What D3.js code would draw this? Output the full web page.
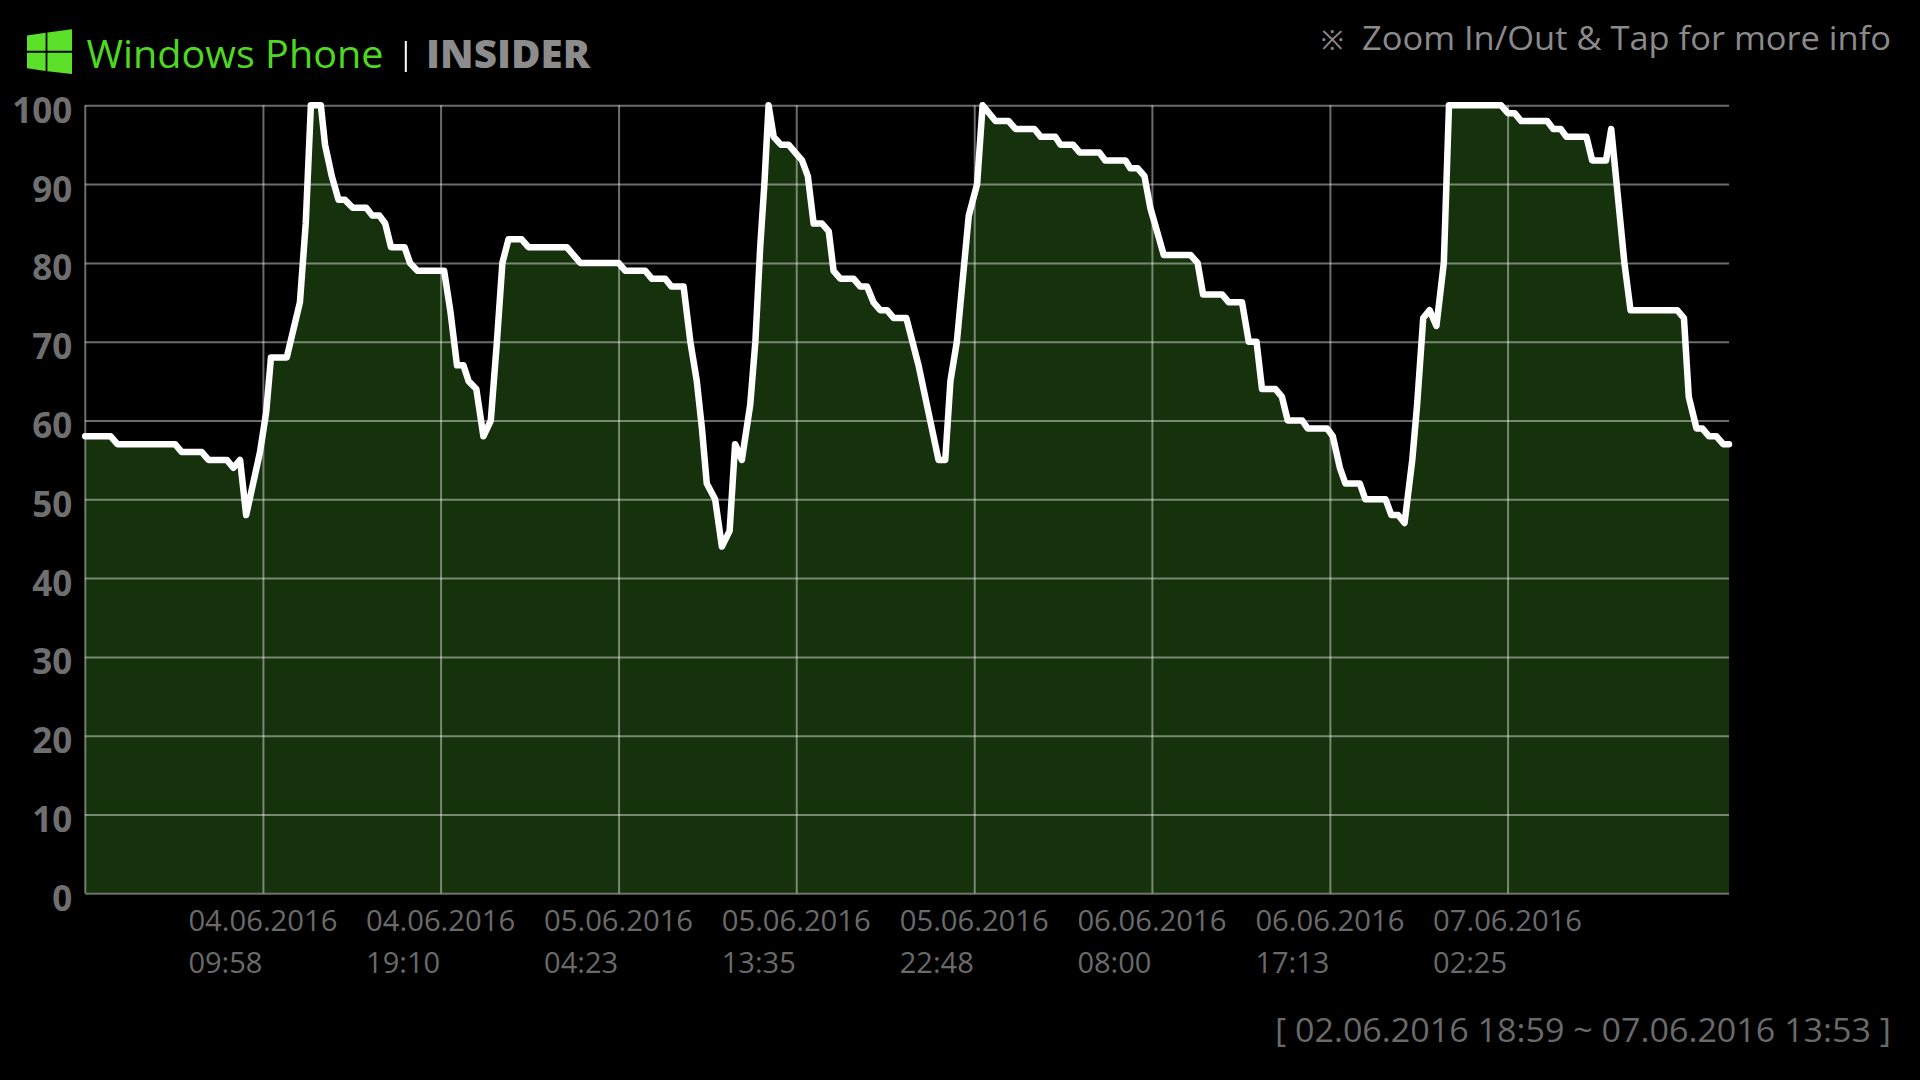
<!DOCTYPE html>
<html>
<head>
<meta charset="utf-8">
<script src="https://cdn.jsdelivr.net/npm/d3@7"></script>
<style>
  html, body { margin: 0; padding: 0; background: #000; overflow: hidden; }
  text { font-family: "Open Sans", "Noto Sans", sans-serif; }
</style>
</head>
<body>
<div id="content"></div>
<script>
// Minutes after the start of the axis.
var sampleMinutes = [
  0, 79, 100, 279, 300, 362, 383, 440, 460, 481,
  500, 543, 562, 577, 626, 667, 685, 701, 732, 745,
  766, 787, 807, 831, 873, 892, 914, 932, 950, 992,
  1009, 1032, 1115, 1134, 1155, 1175, 1191, 1215, 1237, 1260,
  1279, 1296, 1315, 1356, 1377, 1496, 1538, 1657, 1678, 1740,
  1760, 1802, 1821, 1859, 1880, 1900, 1916, 1931, 1957, 1978,
  2002, 2019, 2040, 2066, 2082, 2097, 2110, 2123, 2139, 2161,
  2185, 2206, 2227, 2245, 2263, 2289, 2310, 2325, 2346, 2387,
  2408, 2429, 2449, 2470, 2491, 2512, 2551, 2589, 2651, 2672,
  2688, 2708, 2745, 2771, 2788, 2828, 2869, 2890, 2949, 2969,
  3014, 3030, 3069, 3090, 3151, 3169, 3232, 3247, 3270, 3291,
  3309, 3330, 3351, 3434, 3456, 3473, 3532, 3553, 3594, 3615,
  3639, 3656, 3698, 3718, 3736, 3781, 3798, 3858, 3876, 3898,
  3915, 3960, 3977, 4040, 4058, 4079, 4099, 4123, 4138, 4157,
  4177, 4198, 4221, 4237, 4399, 4420, 4441, 4461, 4542, 4561,
  4584, 4602, 4664, 4682, 4725, 4741, 4758, 4782, 4801, 4946,
  4967, 4982, 5006, 5024, 5045, 5068, 5089, 5107
];

// Battery level at each of those minutes.
var batteryLevel = [
  58, 58, 57, 57, 56, 56, 55, 55, 54, 55,
  48, 56, 61, 68, 68, 75, 85, 100, 100, 95,
  91, 88, 88, 87, 87, 86, 86, 85, 82, 82,
  80, 79, 79, 74, 67, 67, 65, 64, 58, 60,
  70, 80, 83, 83, 82, 82, 80, 80, 79, 79,
  78, 78, 77, 77, 70, 65, 59, 52, 50, 44,
  46, 57, 55, 62, 70, 82, 90, 100, 96, 95,
  95, 94, 93, 91, 85, 85, 84, 79, 78, 78,
  77, 77, 75, 74, 74, 73, 73, 67, 55, 55,
  65, 70, 86, 90, 100, 98, 98, 97, 97, 96,
  96, 95, 95, 94, 94, 93, 93, 92, 92, 91,
  87, 84, 81, 81, 80, 76, 76, 75, 75, 70,
  70, 64, 64, 63, 60, 60, 59, 59, 58, 54,
  52, 52, 50, 50, 48, 48, 47, 55, 62, 73,
  74, 72, 80, 100, 100, 99, 99, 98, 98, 97,
  97, 96, 96, 93, 93, 97, 90, 80, 74, 74,
  73, 63, 59, 59, 58, 58, 57, 57
];

var axisStart = '04.06.2016 00:46';
var axisEnd = '07.06.2016 13:53';
var timeTicks = [
  '04.06.2016 09:58', '04.06.2016 19:10', '05.06.2016 04:23', '05.06.2016 13:35',
  '05.06.2016 22:48', '06.06.2016 08:00', '06.06.2016 17:13', '07.06.2016 02:25'
];
var levelTicks = [0, 10, 20, 30, 40, 50, 60, 70, 80, 90, 100];
var rangeLabel = '[ 02.06.2016 18:59 ~ 07.06.2016 13:53 ]';
var hintMark = '※';
var hintLabel = 'Zoom In/Out & Tap for more info';

var parseTime = d3.timeParse('%d.%m.%Y %H:%M');
var startDate = parseTime(axisStart);
var data = sampleMinutes.map(function(m, i) {
  return {t : d3.timeMinute.offset(startDate, m), v : batteryLevel[i]};
});

// Main SVG container.
var svg = d3.select('#content')
              .append('svg')
              .attr('width', 1920)
              .attr('height', 1080)
              .style('display', 'block');

var left = 85.25, right = 1729, top_ = 105.3, bottom = 893.3;

var scaleX = d3.scaleTime()
                 .domain([ startDate, parseTime(axisEnd) ])
                 .range([ left, right ]);
var scaleY = d3.scaleLinear().domain([ 0, 100 ]).range([ bottom, top_ ]);

// Area under the curve goes first, the grid is drawn on top of it.
svg.append('path')
    .datum(data)
    .attr('fill', '#15320c')
    .attr('d', d3.area()
                   .x(function(d) { return scaleX(d.t); })
                   .y0(scaleY(0))
                   .y1(function(d) { return scaleY(d.v); }));

// Y-axis with its grid lines.
var gridY = svg.append('g')
                .attr('transform', 'translate(' + left + ',0)')
                .call(d3.axisLeft(scaleY)
                          .tickValues(levelTicks)
                          .tickSize(-(right - left))
                          .tickPadding(13));
gridY.select('.domain').remove();
gridY.selectAll('line')
    .attr('stroke', '#fff')
    .attr('stroke-opacity', 0.42)
    .attr('stroke-width', 2);
gridY.selectAll('text')
    .attr('fill', '#6f6f6f')
    .attr('dy', 17)
    .style('font-size', '35px')
    .style('font-weight', 700)
    .style('font-family', '"Open Sans", sans-serif');

// X-axis: two line labels, left aligned under the date.
var gridX = svg.append('g')
                .attr('transform', 'translate(0,' + bottom + ')')
                .call(d3.axisBottom(scaleX)
                          .tickValues(timeTicks.map(parseTime))
                          .tickSize(-(bottom - top_))
                          .tickFormat(function() { return ''; }));
gridX.select('.domain').remove();
gridX.selectAll('line')
    .attr('stroke', '#fff')
    .attr('stroke-opacity', 0.42)
    .attr('stroke-width', 2);
gridX.selectAll('.tick text').remove();
gridX.selectAll('.tick').each(function(d, i) {
  var parts = timeTicks[i].split(' ');
  var tick = d3.select(this).append('text')
                 .attr('fill', '#6a6a6a')
                 .attr('text-anchor', 'start')
                 .style('font-size', '29px');
  tick.append('tspan')
      .attr('x', -75)
      .attr('y', 38)
      .attr('textLength', 149)
      .attr('lengthAdjust', 'spacingAndGlyphs')
      .text(parts[0]);
  tick.append('tspan')
      .attr('x', -75)
      .attr('y', 80)
      .attr('textLength', 74)
      .attr('lengthAdjust', 'spacingAndGlyphs')
      .text(parts[1]);
});

// Left and bottom frame lines.
svg.append('line')
    .attr('x1', left).attr('x2', left)
    .attr('y1', top_).attr('y2', bottom)
    .attr('stroke', '#fff').attr('stroke-opacity', 0.42).attr('stroke-width', 2);

// The battery curve.
svg.append('path')
    .datum(data)
    .attr('fill', 'none')
    .attr('stroke', '#fff')
    .attr('stroke-width', 6.5)
    .attr('stroke-linejoin', 'round')
    .attr('stroke-linecap', 'round')
    .attr('d', d3.line()
                   .x(function(d) { return scaleX(d.t); })
                   .y(function(d) { return scaleY(d.v); }));

// Header: logo and titles.
var logo = svg.append('g').attr('fill', '#5ce02a');
logo.append('path').attr('d', 'M27 35.5 L45.6 32.8 L45.6 50.7 L27 50.7 Z');
logo.append('path').attr('d', 'M47.4 32.5 L72 29.3 L72 50.7 L47.4 50.7 Z');
logo.append('path').attr('d', 'M27 52.8 L45.6 52.8 L45.6 71 L27 68.3 Z');
logo.append('path').attr('d', 'M47.4 52.8 L72 52.8 L72 74 L47.4 71.2 Z');

svg.append('text')
    .attr('x', 86.5).attr('y', 68)
    .attr('textLength', 297)
    .attr('lengthAdjust', 'spacingAndGlyphs')
    .attr('fill', '#4fd822')
    .style('font-size', '39px')
    .text('Windows Phone');
svg.append('rect')
    .attr('x', 404.8).attr('y', 41)
    .attr('width', 2).attr('height', 31)
    .attr('fill', '#fff');
svg.append('text')
    .attr('x', 426).attr('y', 68)
    .attr('textLength', 164)
    .attr('lengthAdjust', 'spacingAndGlyphs')
    .attr('fill', '#8c8c8c')
    .style('font-size', '39px')
    .style('font-weight', 800)
    .text('INSIDER');

svg.append('text')
    .attr('x', 1321).attr('y', 50)
    .attr('fill', '#8a8a8a')
    .style('font-size', '27px')
    .text(hintMark);
svg.append('text')
    .attr('x', 1362).attr('y', 50)
    .attr('textLength', 529)
    .attr('lengthAdjust', 'spacingAndGlyphs')
    .attr('fill', '#8a8a8a')
    .style('font-size', '33px')
    .text(hintLabel);

svg.append('text')
    .attr('x', 1275).attr('y', 1042)
    .attr('textLength', 616)
    .attr('lengthAdjust', 'spacingAndGlyphs')
    .attr('fill', '#6a6a6a')
    .style('font-size', '33px')
    .text(rangeLabel);
</script>
</body>
</html>
